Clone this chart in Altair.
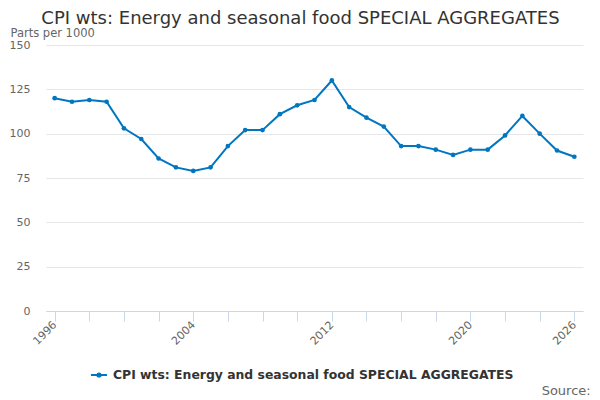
import altair as alt
import pandas as pd

years = list(range(1996, 2027))
values = [120, 118, 119, 118, 103, 97, 86, 81, 79, 81, 93, 102, 102, 111, 116, 119,
          130, 115, 109, 104, 93, 93, 91, 88, 91, 91, 99, 110, 100, 90.5, 87]
series_name = "CPI wts: Energy and seasonal food SPECIAL AGGREGATES"
x_ticks = list(range(1996, 2027, 2))
x_labels = [1996, 2004, 2012, 2020, 2026]
y_ticks = [0, 25, 50, 75, 100, 125, 150]

BLUE = "#0076C0"
FONT = "DejaVu Sans"

df = pd.DataFrame({"year": years, "value": values, "series": [series_name] * len(years)})

label_expr = "indexof([" + ",".join(str(v) for v in x_labels) + "], datum.value) >= 0 ? datum.label : ''"

line = alt.Chart(df).mark_line(
    strokeWidth=2,
    point=alt.OverlayMarkDef(filled=True, size=22, color=BLUE),
).encode(
    x=alt.X("year:Q",
            scale=alt.Scale(domain=[1995.5, 2026.5], nice=False, zero=False),
            axis=alt.Axis(values=x_ticks, labelExpr=label_expr, format="d", title=None,
                          grid=False, domainColor="#ccd6eb", tickColor="#ccd6eb",
                          tickSize=10, labelAngle=315, labelAlign="right",
                          labelBaseline="middle", labelPadding=2, labelColor="#666666",
                          labelFontSize=11, labelFont=FONT, labelOverlap=False,
                          labelBound=False, labelFlush=False)),
    y=alt.Y("value:Q",
            scale=alt.Scale(domain=[0, 150], nice=False),
            axis=alt.Axis(values=y_ticks, title="Parts per 1000", titleAngle=0,
                          titleAlign="left", titleBaseline="alphabetic",
                          titleX=-36, titleY=-9, titleFontSize=11.5, titleColor="#666666",
                          titleFontWeight="normal", titleFont=FONT,
                          domain=False, ticks=False, gridColor="#e6e6e6",
                          labelPadding=16, labelColor="#666666", labelFontSize=11,
                          labelFont=FONT)),
    color=alt.Color("series:N",
                    scale=alt.Scale(domain=[series_name], range=[BLUE]),
                    legend=alt.Legend(title=None, orient="none", legendX=44, legendY=321,
                                      symbolType="M-1,0H1M-0.2,0a0.2,0.2 0 1,0 0.4,0a0.2,0.2 0 1,0 -0.4,0",
                                      symbolSize=256, symbolStrokeWidth=2,
                                      symbolStrokeColor=BLUE, symbolFillColor=BLUE,
                                      labelFont=FONT, labelFontWeight="bold",
                                      labelFontSize=12.4, labelColor="#333333",
                                      labelOffset=5, padding=0, labelLimit=600)),
)

source = alt.Chart(pd.DataFrame({"t": ["Source:"]})).mark_text(
    align="right", baseline="alphabetic", fontSize=13, color="#666666", font=FONT
).encode(x=alt.value(544.7), y=alt.value(350), text="t:N")

chart = alt.layer(line, source).properties(
    width=537,
    height=266,
    title=alt.TitleParams(series_name, anchor="middle", fontSize=18, font=FONT,
                          fontWeight="normal", color="#333333", dx=-14, dy=1, offset=0),
    padding={"left": 38, "top": 37, "right": 9, "bottom": 86},
    autosize=alt.AutoSizeParams(type="none"),
).configure_view(stroke=None)

chart.save("out.html", embed_options={"renderer": "svg", "actions": False})
